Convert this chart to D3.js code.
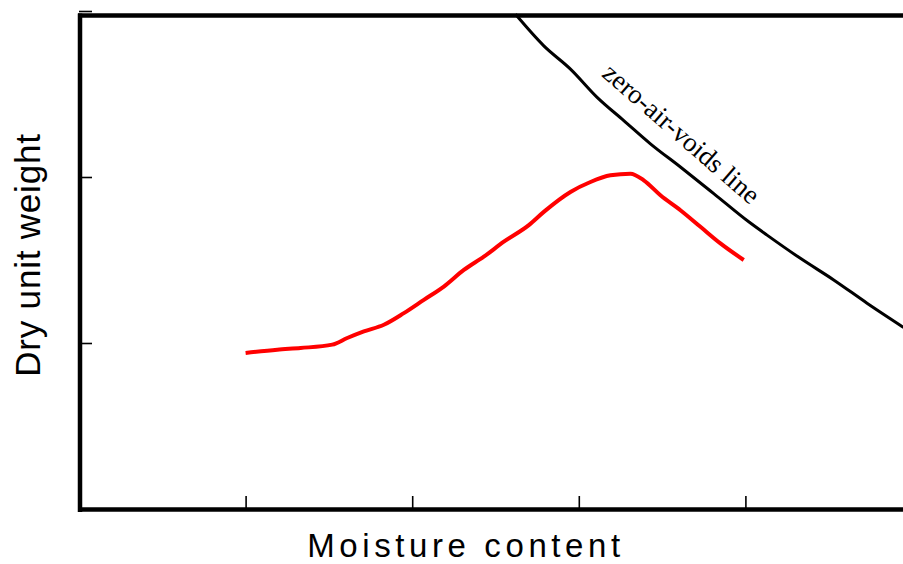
<!DOCTYPE html>
<html>
<head>
<meta charset="utf-8">
<script src="https://cdn.jsdelivr.net/npm/d3@7"></script>
<style>
  body { margin: 0; background: #fff; }
  svg { display: block; }
</style>
</head>
<body>
<svg width="903" height="564"></svg>
<script>
// compaction curve (moisture content, dry unit weight)
const compactionX = [1.0, 1.19, 1.33, 1.52, 1.61, 1.71, 1.83, 1.95, 2.07, 2.19, 2.31, 2.43, 2.55, 2.70, 2.79, 2.95, 3.07, 3.19, 3.31, 3.39, 3.49, 3.61, 3.73, 3.85, 3.99];
const compactionY = [0.94, 0.96, 0.97, 0.99, 1.03, 1.07, 1.11, 1.18, 1.26, 1.34, 1.44, 1.52, 1.61, 1.71, 1.79, 1.91, 1.97, 2.01, 2.02, 1.98, 1.89, 1.80, 1.70, 1.60, 1.50];

// zero-air-voids line
const zavX = [2.62, 2.79, 2.95, 3.11, 3.27, 3.43, 3.61, 3.81, 4.02, 4.13, 4.33, 4.53, 4.73, 4.94, 4.97];
const zavY = [2.98, 2.79, 2.65, 2.48, 2.34, 2.20, 2.06, 1.90, 1.73, 1.65, 1.51, 1.38, 1.24, 1.10, 1.08];

const xTicks = [1, 2, 3, 4];
const yTicks = [0, 1, 2, 3];
const xLabel = 'Moisture content';
const yLabel = 'Dry unit weight';
const zavLabel = 'zero-air-voids line';

const svg = d3.select('svg');
const width = 903;

const x = d3.scaleLinear().domain([0, 5]).range([79, 912]);
const y = d3.scaleLinear().domain([0, 3]).range([509, 11]);

const line = d3
  .line()
  .curve(d3.curveMonotoneX)
  .x(function (d) { return x(d[0]); })
  .y(function (d) { return y(d[1]); });

// ticks point into the plot
svg
  .append('g')
  .attr('transform', `translate(0,${y(0)})`)
  .call(d3.axisBottom(x).tickValues(xTicks).tickSizeInner(-13).tickSizeOuter(0).tickFormat(''))
  .call(function (g) { g.select('.domain').remove(); })
  .selectAll('line')
  .attr('stroke', '#000')
  .attr('stroke-width', 1.6);

svg
  .append('g')
  .attr('transform', `translate(${x(0)},0)`)
  .call(d3.axisLeft(y).tickValues(yTicks).tickSizeInner(-13).tickSizeOuter(0).tickFormat(''))
  .call(function (g) { g.select('.domain').remove(); })
  .selectAll('line')
  .attr('stroke', '#000')
  .attr('stroke-width', 1.6);

svg
  .append('path')
  .datum(d3.zip(zavX, zavY))
  .attr('fill', 'none')
  .attr('stroke', '#000')
  .attr('stroke-width', 3)
  .attr('d', line);

svg
  .append('path')
  .datum(d3.zip(compactionX, compactionY))
  .attr('fill', 'none')
  .attr('stroke', '#ff0000')
  .attr('stroke-width', 4)
  .attr('d', line);

// frame: top, left, bottom
const frame = svg.append('g').attr('stroke', '#000').attr('stroke-width', 4.5);
frame.append('line').attr('x1', x(0) - 1).attr('x2', width).attr('y1', 15.5).attr('y2', 15.5);
frame.append('line').attr('x1', x(0) + 1).attr('x2', x(0) + 1).attr('y1', 13.5).attr('y2', y(0) + 3);
frame.append('line').attr('x1', x(0) - 1).attr('x2', width).attr('y1', y(0) + 0.5).attr('y2', y(0) + 0.5);

svg
  .append('text')
  .attr('transform', `translate(${x(3.58)},${y(2.22)}) rotate(41)`)
  .attr('text-anchor', 'middle')
  .style('font-family', '"Liberation Serif", "Times New Roman", serif')
  .style('font-size', '27px')
  .text(zavLabel);

svg
  .append('text')
  .attr('x', 466)
  .attr('y', 557)
  .attr('text-anchor', 'middle')
  .style('font-family', '"Liberation Sans", Arial, sans-serif')
  .style('font-size', '33px')
  .style('letter-spacing', '4.6px')
  .text(xLabel);

svg
  .append('text')
  .attr('transform', 'translate(40,255) rotate(-90)')
  .attr('text-anchor', 'middle')
  .style('font-family', '"Liberation Sans", Arial, sans-serif')
  .style('font-size', '35px')
  .style('letter-spacing', '0.8px')
  .text(yLabel);
</script>
</body>
</html>
